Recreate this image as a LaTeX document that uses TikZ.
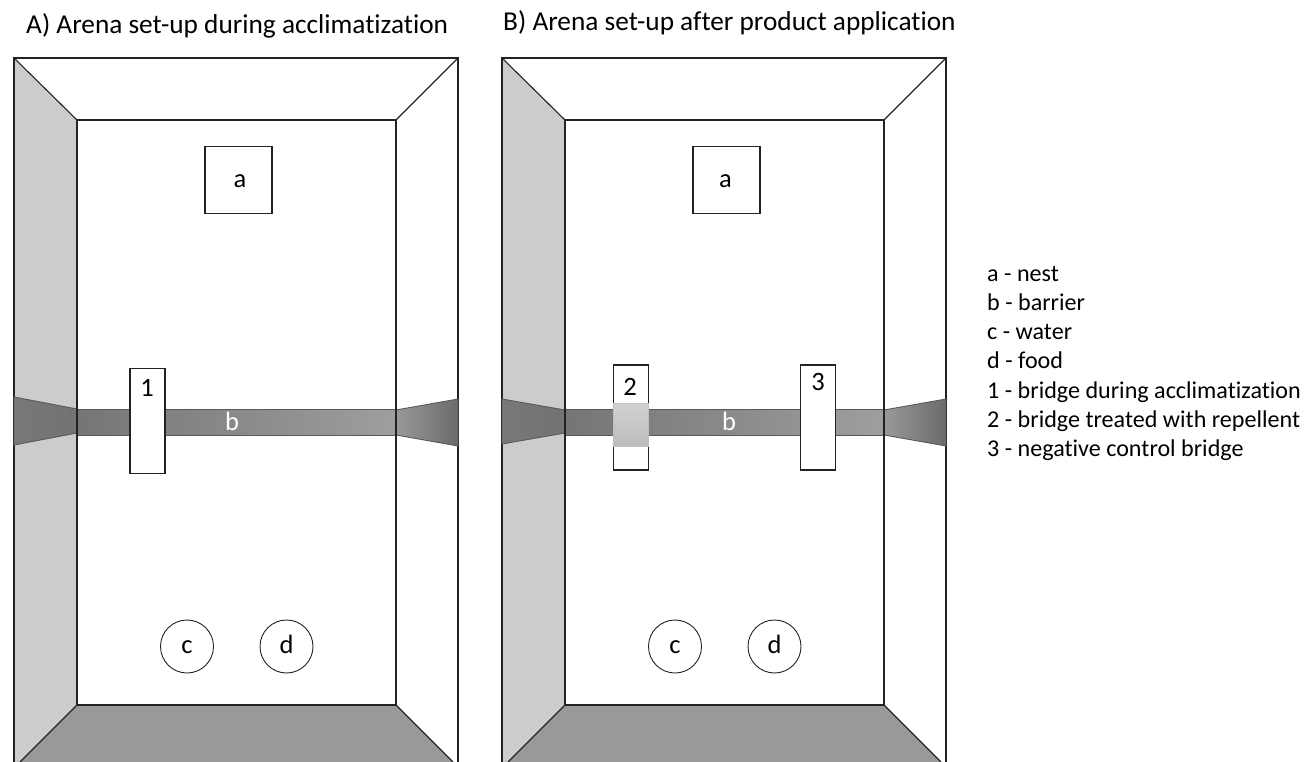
\documentclass[tikz,border=0pt]{standalone}
\usepackage{fontspec}
\setmainfont[Ligatures=NoCommon]{Carlito}
\usepackage{xcolor}
\usetikzlibrary{positioning}
\definecolor{wallgray}{HTML}{CCCCCC}
\definecolor{floorgray}{HTML}{999999}
\definecolor{linegray}{HTML}{222222}
\tikzset{
	wall/.style={draw=linegray, line width=1.1pt, line join=miter},
	barrier/.style={draw=black!65, line width=0.9pt},
	nest/.style={draw=linegray, line width=1.1pt, fill=white, minimum width=67pt, minimum height=67pt, inner sep=0pt},
	dish/.style={circle, draw=linegray, line width=0.9pt, fill=white, minimum size=53pt, inner sep=0pt, text height=14pt, text depth=0pt, font=\fontsize{26.5}{27}\selectfont},
	bridge/.style={draw=linegray, line width=1.1pt, fill=white, minimum width=35pt, minimum height=105pt, inner sep=0pt},
	tag/.style={inner sep=0pt, text height=14pt, text depth=0pt, font=\fontsize{26.5}{27}\selectfont},
	title/.style={inner sep=0pt, anchor=base west, font=\fontsize{27.3}{28}\selectfont},
	legend/.style={inner sep=0pt, anchor=base west, font=\fontsize{24.1}{25}\selectfont}
}
\begin{document}
\begin{tikzpicture}[x=1pt, y=-1pt]
	\useasboundingbox (0,0) rectangle (1305,762);
	% the two arenas
	\foreach \arena/\dx/\wedgea/\wedgeb/\wedgec/\wedged/\xa/\xb in {A/0/397/409/433/445/240/232, B/488/399/410/433/444/237.5/241} {
		\begin{scope}[xshift=\dx pt]
			\fill[wallgray] (14,58) -- (77,120) -- (77,705) -- (20,762) -- (14,762) -- cycle;
			\fill[floorgray] (77,705) -- (396,705) -- (453,762) -- (20,762) -- cycle;
			\draw[wall] (14,762) -- (14,58) -- (458,58) -- (458,762);
			\draw[wall] (14,58) -- (77,120);
			\draw[wall] (458,58) -- (396,120);
			\draw[wall] (77,705) -- (20,762);
			\draw[wall] (396,705) -- (453,762);
			% barrier
			\draw[barrier, left color=black!53, middle color=black!45, right color=black!55] (14,\wedgea) -- (77,\wedgeb) -- (77,\wedgec) -- (14,\wedged) -- cycle;
			\draw[barrier, left color=black!40, right color=black!58] (396,410) -- (458,399) -- (458,446) -- (396,435) -- cycle;
			\draw[barrier, left color=black!54, right color=black!38] (77,409) rectangle (396,435);
			\draw[wall] (77,120) rectangle (396,705);
			\node[text=white, tag] (b\arena) at (\xb,423.5) {b};
			% nest, water, food
			\node[nest] (nest\arena) at (238.5,180) {};
			\node[tag] (a\arena) at (\xa,180) {a};
			\node[dish] (c\arena) at (187,646.5) {c};
			\node[dish] (d\arena) at (286.5,646.5) {d};
		\end{scope}
	}
	% bridges
	\node[bridge] (bridge1) at (147.5,421) {};
	\node[tag] (one) at (147,389.7) {1};
	\node[bridge] (bridge2) at (631,417.5) {};
	\node[tag] (two) at (630,388.7) {2};
	\draw[draw=black!25, top color=black!18, bottom color=black!26] (613,403) rectangle (648.5,446);
	\node[bridge] (bridge3) at (818,417.5) {};
	\node[tag] (three) at (818,383.7) {3};
	% titles
	\node[title] (titleA) at (26,34) {A) Arena set-up during acclimatization};
	\node[title] (titleB) at (503,31) {B) Arena set-up after product application};
	% legend
	\node[legend] (leg1) at (987,281) {a - nest};
	\node[legend] (leg2) at (987,310) {b - barrier};
	\node[legend] (leg3) at (987,339) {c - water};
	\node[legend] (leg4) at (987,368) {d - food};
	\node[legend] (leg5) at (987,398) {1 - bridge during acclimatization};
	\node[legend] (leg6) at (987,427) {2 - bridge treated with repellent};
	\node[legend] (leg7) at (987,456) {3 - negative control bridge};
\end{tikzpicture}
\end{document}
